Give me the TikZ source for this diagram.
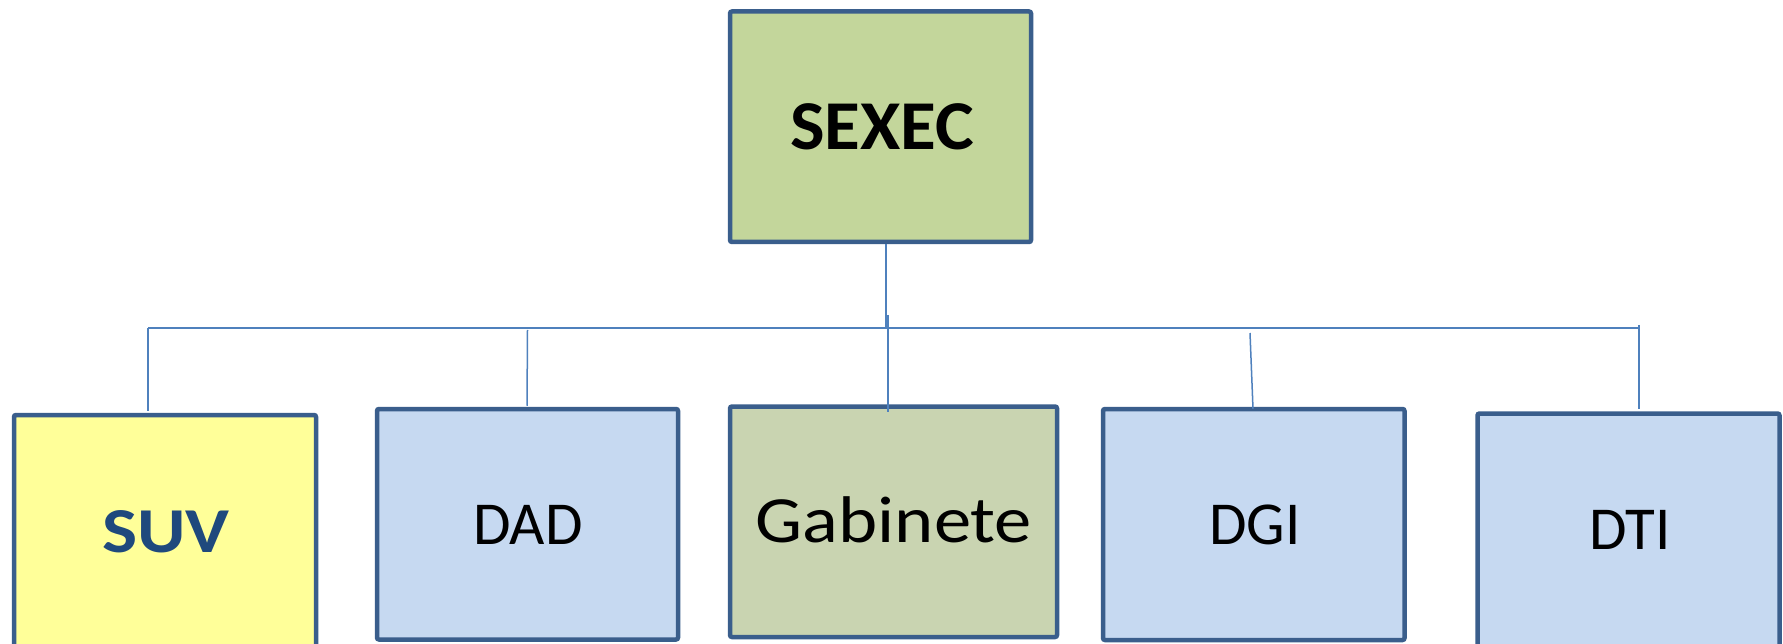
\documentclass[tikz,border=0pt]{standalone}
\usepackage{fontspec}
\setmainfont{Carlito}
\definecolor{boxborder}{RGB}{58,94,140}
\definecolor{connline}{RGB}{79,129,189}
\definecolor{sexecfill}{RGB}{195,214,155}
\definecolor{gabfill}{RGB}{201,212,177}
\definecolor{bluefill}{RGB}{198,217,241}
\definecolor{yellowfill}{RGB}{255,255,153}
\definecolor{suvtext}{RGB}{31,73,125}
\begin{document}
\begin{tikzpicture}[x=1pt,y=-1pt,
  orgbox/.style={draw=boxborder, line width=4.5pt, rounded corners=2pt, rectangle, inner sep=0pt},
  conn/.style={draw=connline, line width=1.5pt},
  bigtxt/.style={font=\fontsize{61}{70}\selectfont, text=black, inner sep=0pt}]
\useasboundingbox (0,0) rectangle (1783,644);
\clip (0,0) rectangle (1783,644);
\fill[white] (0,0) rectangle (1783,644);

\node[orgbox, fill=sexecfill, minimum width=301pt, minimum height=230.5pt] (sexec) at (880.5,126.75) {};
\node[bigtxt, font=\fontsize{70}{80}\selectfont\bfseries] (sexect) at (882,127) {\scalebox{1.045}[1]{SEXEC}};

\node[orgbox, fill=yellowfill, minimum width=302pt, minimum height=240pt] (suv) at (165,535) {};
\node[bigtxt, font=\fontsize{64}{72}\selectfont\bfseries, text=suvtext] (suvt) at (166,532) {\scalebox{1.16}[1]{SUV}};

\node[orgbox, fill=bluefill, minimum width=301pt, minimum height=230.5pt] (dad) at (527.5,524.25) {};
\node[bigtxt] (dadt) at (528,525) {DAD};

\node[orgbox, fill=gabfill, minimum width=327pt, minimum height=230.5pt] (gab) at (893.5,521.75) {};
\node[bigtxt, font=\fontsize{66}{76}\selectfont] (gabt) at (894,520) {\scalebox{1.13}[1]{Gabinete}};

\node[orgbox, fill=bluefill, minimum width=301.5pt, minimum height=231pt] (dgi) at (1253.75,524.5) {};
\node[bigtxt] (dgit) at (1255,525) {DGI};

\node[orgbox, fill=bluefill, minimum width=302pt, minimum height=236.5pt] (dti) at (1628.5,531.75) {};
\node[bigtxt] (dtit) at (1630,530) {DTI};

\coordinate (busL) at (148,328);
\coordinate (busR) at (1639,328);
\coordinate (gabtop) at (888,315);
\coordinate (dgitop) at (1250,333);

\draw[conn] (busL) -- (busR);
\draw[conn] ([xshift=5.5pt]sexec.south) -- ([xshift=5.5pt]sexec.south |- busL);
\draw[conn] (busL) -- ([xshift=-17pt,yshift=2pt]suv.north);
\draw[conn] ([yshift=-2pt]dad.north |- busL) -- ([xshift=-0.5pt,yshift=1pt]dad.north);
\draw[conn] (gabtop) -- ([xshift=-5.5pt,yshift=-7.5pt]gab.north);
\draw[conn] (dgitop) -- ([xshift=-0.75pt,yshift=-2pt]dgi.north);
\draw[conn] ([yshift=3pt]busR) -- ([xshift=10.5pt,yshift=2.5pt]dti.north);
\end{tikzpicture}
\end{document}
